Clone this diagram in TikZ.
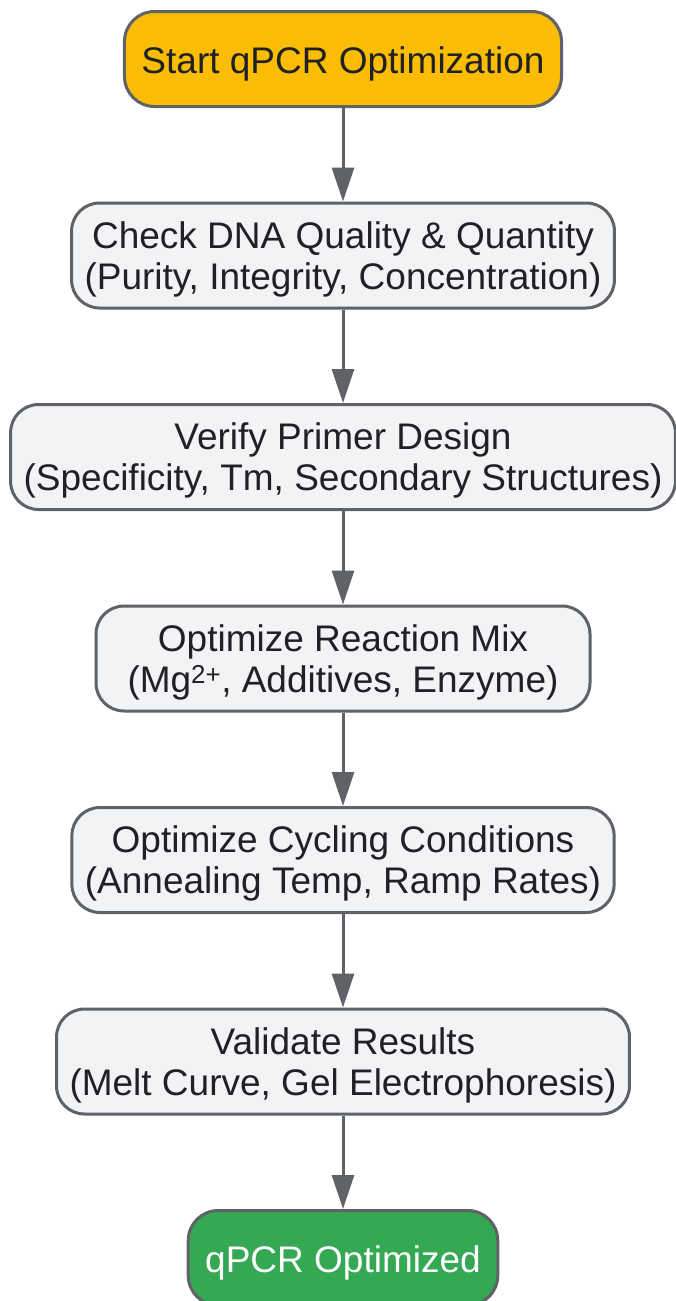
\documentclass[tikz,border=0pt]{standalone}
\usepackage{fontspec}
\setmainfont{Liberation Sans}
\usetikzlibrary{positioning,arrows.meta}
\definecolor{edgegray}{HTML}{5F6368}
\definecolor{boxgray}{HTML}{F1F3F4}
\definecolor{startorange}{HTML}{FBBC04}
\definecolor{endgreen}{HTML}{34A853}
\definecolor{txtdark}{HTML}{202124}
% two centred lines, set a little lower in the box
\newcommand{\twolines}[2]{\raisebox{-5pt}[\height][\depth]{\begin{tabular}{@{}c@{}}#1\\#2\end{tabular}}}
\tikzset{
  stepbox/.style={draw=edgegray, line width=3pt, fill=boxgray, rounded corners=28pt,
    align=center, inner xsep=13pt, inner ysep=4pt, minimum height=105pt,
    text=txtdark, font=\fontsize{37pt}{41pt}\selectfont},
  startbox/.style={stepbox, fill=startorange, minimum height=95pt, rounded corners=30pt,
    inner xsep=17pt, execute at begin node=\rule{0pt}{37pt}},
  endbox/.style={startbox, fill=endgreen, text=white},
  flow/.style={draw=edgegray, line width=3pt, -{Triangle[width=22pt,length=34pt]}}
}
\begin{document}
\begin{tikzpicture}[x=1pt, y=1pt, node distance=93.5pt]
  \useasboundingbox (0,0) rectangle (675,-1301);
  \fill[white] (0,0) rectangle (675,-1301);
  % flow chart nodes
  \node [startbox] (start) at (343,-59) {Start qPCR Optimization};
  \node [stepbox, below=of start] (dna) {\twolines{Check DNA Quality \& Quantity}{(Purity, Integrity, Concentration)}};
  \node [stepbox, below=of dna] (primer) {\twolines{Verify Primer Design}{(Specificity, Tm, Secondary Structures)}};
  \node [stepbox, below=of primer, minimum width=494pt] (mix) {\twolines{Optimize Reaction Mix}{(Mg\textsuperscript{2+}, Additives, Enzyme)}};
  \node [stepbox, below=of mix] (cycling) {\twolines{Optimize Cycling Conditions}{(Annealing Temp, Ramp Rates)}};
  \node [stepbox, below=of cycling] (validate) {\twolines{Validate Results}{(Melt Curve, Gel Electrophoresis)}};
  \node [endbox, below=of validate] (done) {qPCR Optimized};
  % arrows
  \draw [flow] (start) -- (dna);
  \draw [flow] (dna) -- (primer);
  \draw [flow] (primer) -- (mix);
  \draw [flow] (mix) -- (cycling);
  \draw [flow] (cycling) -- (validate);
  \draw [flow] (validate) -- (done);
\end{tikzpicture}
\end{document}
